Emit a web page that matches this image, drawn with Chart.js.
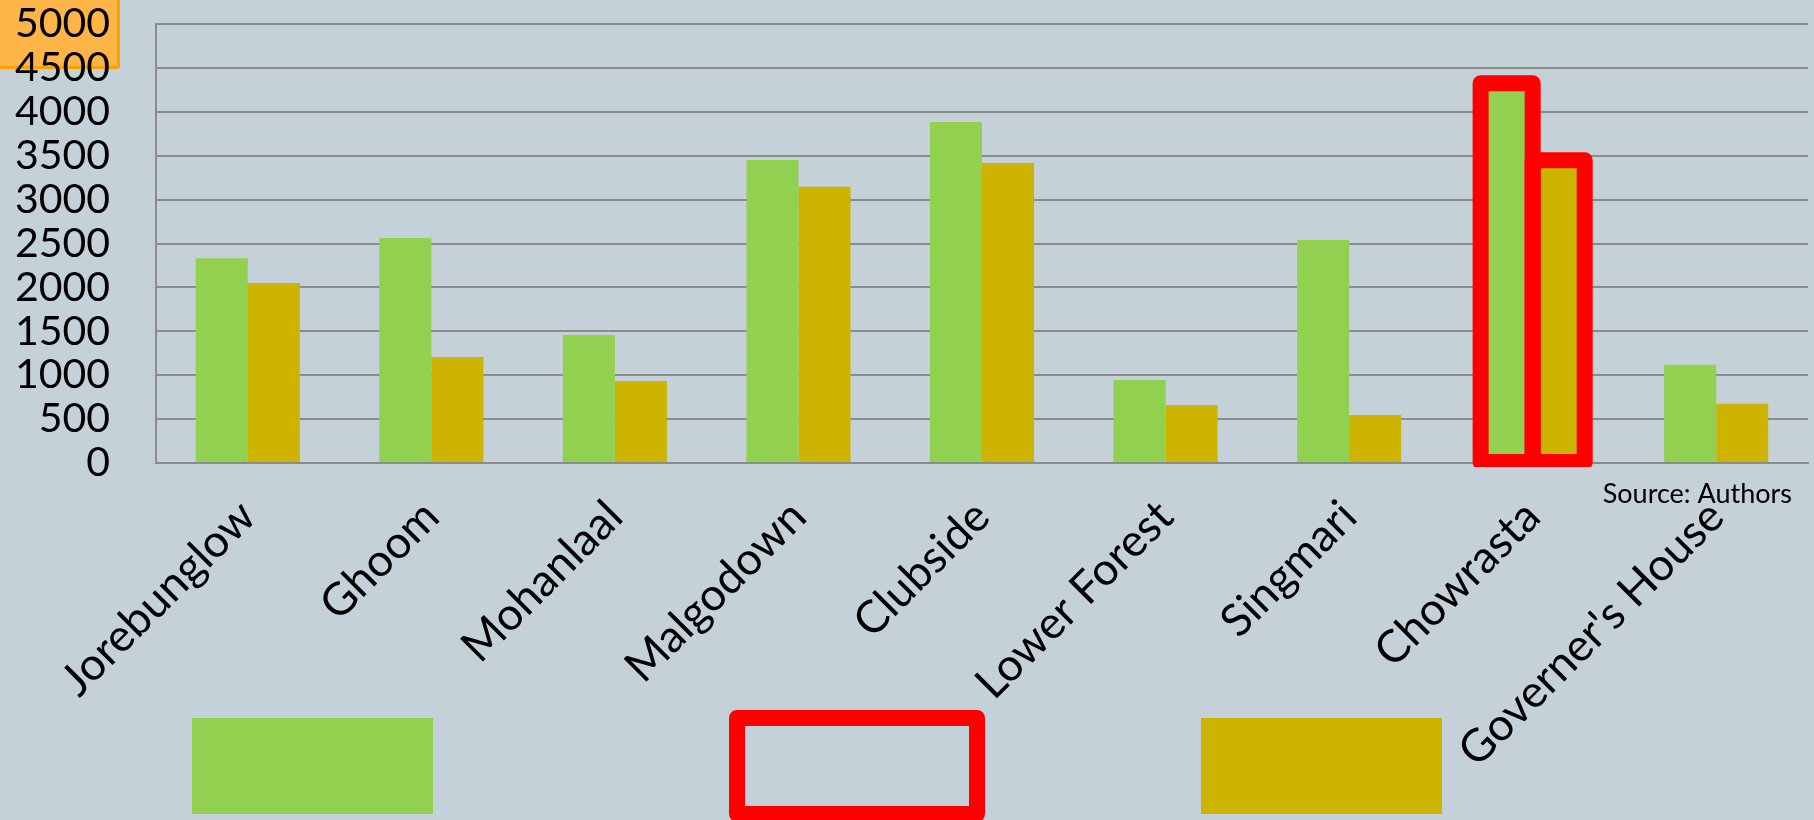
<!DOCTYPE html>
<html>
<head>
<meta charset="utf-8">
<script src="https://cdn.jsdelivr.net/npm/chart.js@4.4.1/dist/chart.umd.min.js"></script>
<style>
html,body{margin:0;padding:0;background:#C5D1D8;}
#wrap{width:1814px;height:820px;position:relative;}
canvas{display:block;}
</style>
</head>
<body>
<div id="wrap"><canvas id="c" width="1814" height="820"></canvas></div>
<script>
const categories = ["Jorebunglow","Ghoom","Mohanlaal","Malgodown","Clubside","Lower Forest","Singmari","Chowrasta","Governer's House"];
const seriesGreen = [2331, 2562, 1458, 3451, 3884, 945, 2540, 4326, 1120];
const seriesGold  = [2050, 1207, 934, 3147, 3417, 661, 547, 3449, 676];
const yTicks = [0,500,1000,1500,2000,2500,3000,3500,4000,4500,5000];
const highlightCategory = "Chowrasta";
const sourceNote = "Source: Authors";

const FONT = "Lato, 'Open Sans', sans-serif";
const GRID = "#8A8C8E";

const decorPlugin = {
  id: 'decor',
  beforeDraw(chart) {
    const ctx = chart.ctx;
    ctx.save();
    ctx.fillStyle = "#FFB447";
    ctx.beginPath();
    ctx.moveTo(0,0); ctx.lineTo(120,0); ctx.lineTo(120,66);
    ctx.quadraticCurveTo(120,69,117,69); ctx.lineTo(0,69); ctx.closePath();
    ctx.fill();
    ctx.strokeStyle = "#FFA000"; ctx.lineWidth = 3;
    ctx.beginPath();
    ctx.moveTo(118.5,0); ctx.lineTo(118.5,65); ctx.quadraticCurveTo(118.5,67.5,116,67.5); ctx.lineTo(0,67.5);
    ctx.stroke();
    ctx.restore();
  },
  afterDatasetsDraw(chart) {
    const ctx = chart.ctx;
    const idx = categories.indexOf(highlightCategory);
    ctx.save();
    ctx.beginPath();
    ctx.rect(0, 0, chart.width, chart.chartArea.bottom + 4);
    ctx.clip();
    ctx.strokeStyle = "#FF0000";
    ctx.lineWidth = 16;
    ctx.lineJoin = "round";
    chart.data.datasets.forEach((ds, di) => {
      const el = chart.getDatasetMeta(di).data[idx];
      const p = el.getProps(['x','y','base','width'], true);
      ctx.strokeRect(p.x - p.width/2, p.y, p.width, p.base - p.y);
    });
    ctx.restore();
  },
  afterDraw(chart) {
    const ctx = chart.ctx;
    ctx.save();
    ctx.fillStyle = "#000";
    ctx.font = "27px " + FONT;
    ctx.textAlign = "right";
    ctx.textBaseline = "alphabetic";
    ctx.fillText(sourceNote, 1792, 503);
    ctx.fillStyle = "#92D050";
    ctx.fillRect(192, 718, 241, 96);
    ctx.strokeStyle = "#FF0000"; ctx.lineWidth = 16; ctx.lineJoin = "round";
    ctx.strokeRect(737, 718, 240, 96);
    ctx.fillStyle = "#CCB400";
    ctx.fillRect(1201, 718, 241, 96);
    ctx.restore();
  }
};

new Chart(document.getElementById('c'), {
  type: 'bar',
  data: {
    labels: categories,
    datasets: [
      { label: 'Series 1', data: seriesGreen, backgroundColor: '#92D050', borderWidth: 0,
        categoryPercentage: 0.567, barPercentage: 1.0 },
      { label: 'Series 2', data: seriesGold, backgroundColor: '#CCB400', borderWidth: 0,
        categoryPercentage: 0.567, barPercentage: 1.0 }
    ]
  },
  options: {
    responsive: false,
    animation: false,
    layout: { padding: { left: 0, right: 6, top: 24, bottom: 0 } },
    plugins: { legend: { display: false }, tooltip: { enabled: false } },
    scales: {
      x: {
        grid: { display: false, drawTicks: false },
        border: { display: true, color: GRID, width: 2 },
        ticks: { color: '#000', font: { family: FONT, size: 45 }, maxRotation: 45, minRotation: 45, padding: 27, autoSkip: false },
        afterFit(s) { s.height = 357; s.paddingLeft = 0; s.paddingRight = 0; s.paddingTop = 0; s.paddingBottom = 0; }
      },
      y: {
        min: 0, max: 5000,
        afterBuildTicks(s) { s.ticks = yTicks.map(v => ({ value: v })); },
        grid: { color: GRID, lineWidth: 2, drawTicks: false },
        border: { display: true, color: GRID, width: 2 },
        ticks: { color: '#000', font: { family: FONT, size: 41, lineHeight: 1.0 }, padding: 46, autoSkip: false, callback: v => String(v) },
        afterFit(s) { s.width = 156; s.paddingTop = 0; s.paddingBottom = 0; }
      }
    }
  },
  plugins: [decorPlugin]
});
</script>
</body>
</html>
